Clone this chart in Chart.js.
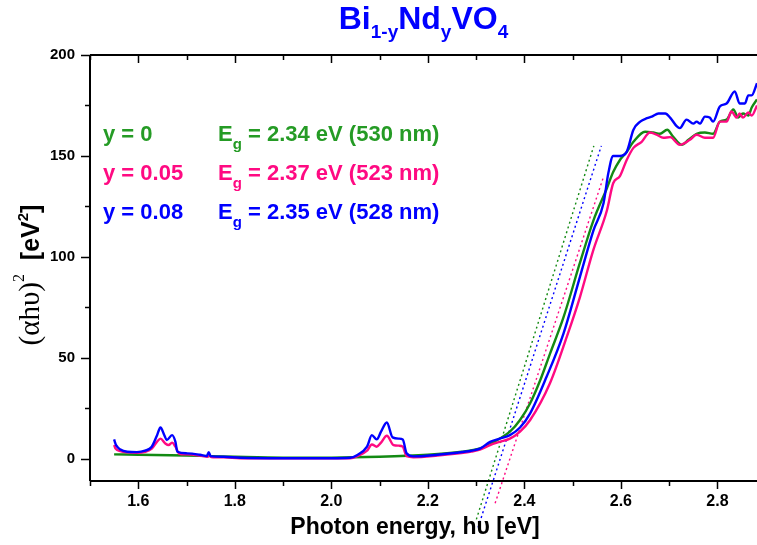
<!DOCTYPE html>
<html>
<head>
<meta charset="utf-8">
<script src="https://cdn.jsdelivr.net/npm/chart.js@4.4.1/dist/chart.umd.min.js"></script>
<style>
  html, body { margin: 0; padding: 0; background: #fff; }
</style>
</head>
<body>
<canvas id="tauc" width="757" height="545"></canvas>
<script>
const SANS = "'Liberation Sans', Arial, sans-serif";
const SERIF = "'Liberation Serif', 'Times New Roman', serif";

const GREEN = "#138a13";
const GREEN_TXT = "#259b25";
const PINK = "#ff0a82";
const BLUE = "#0000ff";

// y = 0
const energyY0 = [1.55, 1.60, 1.70, 1.80, 1.90, 2.00, 2.10, 2.20, 2.27, 2.308, 2.329, 2.349, 2.37, 2.391, 2.412, 2.433, 2.453, 2.481, 2.515, 2.543, 2.571, 2.584, 2.598, 2.612, 2.626, 2.65, 2.667, 2.681, 2.696, 2.708, 2.726, 2.74, 2.757, 2.774, 2.791, 2.805, 2.819, 2.833, 2.843, 2.853, 2.864, 2.871, 2.882];
const valuesY0 = [2.2, 2.0, 1.6, 1.0, 0.6, 0.6, 1.0, 2.0, 3.5, 5.1, 7.2, 10, 13.4, 19.2, 27.5, 39, 52, 70, 97, 118, 134, 142, 148, 152, 157, 162, 161.6, 161, 163, 159.6, 155.5, 158, 161, 161.6, 161, 167, 168, 173, 169, 171, 170, 174, 178];

// y = 0.05
const energyY05 = [1.55, 1.553, 1.563, 1.577, 1.597, 1.614, 1.628, 1.639, 1.646, 1.656, 1.663, 1.670, 1.677, 1.685, 1.701, 1.728, 1.744, 1.747, 1.751, 1.777, 1.811, 1.9, 2.0, 2.039, 2.053, 2.074, 2.084, 2.094, 2.103, 2.115, 2.129, 2.140, 2.148, 2.156, 2.17, 2.22, 2.26, 2.29, 2.308, 2.329, 2.349, 2.37, 2.391, 2.412, 2.453, 2.488, 2.515, 2.543, 2.571, 2.584, 2.598, 2.612, 2.626, 2.643, 2.66, 2.674, 2.688, 2.702, 2.722, 2.743, 2.757, 2.774, 2.791, 2.805, 2.819, 2.829, 2.84, 2.846, 2.853, 2.864, 2.871, 2.882];
const valuesY05 = [6.8, 5, 3.8, 3.2, 3.0, 3.5, 5, 8.5, 10, 7.6, 6.8, 8, 6, 2.5, 2.2, 1.6, 1.0, 2.0, 0.9, 0.7, 0.3, 0.2, 0.2, 0.3, 1.2, 4, 7.1, 6, 8, 11.4, 6.8, 6.5, 6, 1.3, 0.8, 1.6, 2.6, 3.6, 4.5, 6.8, 8.4, 10, 13.5, 19.2, 37.4, 60.5, 80, 103.5, 123, 136.5, 140, 148, 154, 157, 161.6, 160.5, 159, 159.3, 155.5, 158, 160.5, 159, 159, 167, 167, 172, 169, 171, 169, 171.5, 170, 175];

// y = 0.08
const energyY08 = [1.55, 1.552, 1.554, 1.563, 1.577, 1.597, 1.614, 1.628, 1.639, 1.646, 1.654, 1.659, 1.670, 1.677, 1.681, 1.701, 1.728, 1.742, 1.746, 1.750, 1.777, 1.811, 1.9, 2.0, 2.039, 2.053, 2.074, 2.084, 2.094, 2.103, 2.115, 2.127, 2.140, 2.148, 2.156, 2.17, 2.22, 2.26, 2.29, 2.308, 2.329, 2.349, 2.37, 2.391, 2.412, 2.446, 2.481, 2.515, 2.543, 2.564, 2.574, 2.584, 2.598, 2.612, 2.626, 2.640, 2.654, 2.664, 2.678, 2.692, 2.702, 2.716, 2.722, 2.736, 2.750, 2.757, 2.764, 2.774, 2.784, 2.791, 2.805, 2.819, 2.836, 2.846, 2.857, 2.864, 2.871, 2.882];
const valuesY08 = [9.6, 8, 6.8, 4.6, 3.5, 3.3, 4, 6, 11.7, 15.5, 11.7, 9.3, 11.7, 8.4, 3.5, 2.7, 2.0, 1.4, 3.3, 1.3, 1.0, 0.5, 0.3, 0.3, 0.5, 1.8, 6, 11.7, 9.6, 13.4, 18, 10.6, 10, 9.6, 2.7, 1.2, 2, 3, 4, 5, 8.4, 10, 11.7, 15.5, 22.5, 40.6, 62, 90, 113, 126.6, 141.5, 150, 150, 152, 163, 167, 168.7, 169.5, 171, 171, 169, 164.6, 163.8, 168, 166, 167, 166, 169.5, 169, 167, 174.5, 176, 182, 176, 176, 180, 180, 186];

// band gaps and linear fits (order: y = 0, 0.05, 0.08)
const compositions = ["0", "0.05", "0.08"];
const bandGapEv = [2.34, 2.37, 2.35];
const bandGapNm = [530, 523, 528];
const fitSlope = [760, 720, 740];
const fitLow = [-30, -22, -34];
const fitHigh = [155, 140, 155];

const xTicks = [1.6, 1.8, 2.0, 2.2, 2.4, 2.6, 2.8];
const yTicks = [0, 50, 100, 150, 200];

const toPoints = (xs, ys) => xs.map((x, i) => ({ x: x, y: ys[i] }));
const fitLine = (i) => [
  { x: bandGapEv[i] + fitLow[i] / fitSlope[i], y: fitLow[i] },
  { x: bandGapEv[i] + fitHigh[i] / fitSlope[i], y: fitHigh[i] },
];

const curve = (data, color) => ({
  data: data,
  showLine: true,
  borderColor: color,
  borderWidth: 2.4,
  pointRadius: 0,
  cubicInterpolationMode: "monotone",
});
const dotted = (data, color) => ({
  data: data,
  showLine: true,
  borderColor: color,
  borderWidth: 1.4,
  borderDash: [2, 3],
  pointRadius: 0,
  clip: false,
});

// draws a run of [text, font, dy] pieces, left aligned or centred
function richText(ctx, parts, x, y, align) {
  let w = 0;
  parts.forEach((p) => { ctx.font = p[1]; w += ctx.measureText(p[0]).width; });
  let cx = align === "center" ? x - w / 2 : x;
  parts.forEach((p) => {
    ctx.font = p[1];
    ctx.fillText(p[0], cx, y + (p[2] || 0));
    cx += ctx.measureText(p[0]).width;
  });
}

// axis lines and major/minor tick marks
const framePlugin = {
  id: "frame",
  afterDraw(chart) {
    const { ctx, chartArea: a, scales } = chart;
    const xs = scales.x, ys = scales.y;
    ctx.save();
    ctx.strokeStyle = "#000";
    ctx.lineWidth = 2;
    ctx.beginPath();
    ctx.moveTo(a.left, a.top); ctx.lineTo(a.right + 2, a.top);
    ctx.moveTo(a.left, a.top); ctx.lineTo(a.left, a.bottom);
    ctx.moveTo(a.left, a.bottom); ctx.lineTo(a.right + 2, a.bottom);
    ctx.stroke();
    ctx.lineWidth = 1.5;
    ctx.beginPath();
    for (let k = 15; k <= 29; k++) {
      const v = k / 10;
      const px = Math.round(xs.getPixelForValue(v)) + 0.5;
      if (px < a.left - 1 || px > a.right) continue;
      const major = k % 2 === 0;
      ctx.moveTo(px, a.bottom); ctx.lineTo(px, a.bottom + (major ? 8 : 5));
      ctx.moveTo(px, a.top); ctx.lineTo(px, a.top + (major ? 8 : 5));
    }
    for (let v = 0; v <= 200; v += 25) {
      const py = Math.round(ys.getPixelForValue(v)) + 0.5;
      const major = v % 50 === 0;
      ctx.moveTo(a.left, py); ctx.lineTo(a.left - (major ? 9 : 5), py);
    }
    ctx.stroke();
    ctx.restore();
  },
};

// title, composition / band-gap notes and axis titles
const textPlugin = {
  id: "texts",
  afterDraw(chart) {
    const { ctx, chartArea: a } = chart;
    ctx.save();
    ctx.textBaseline = "alphabetic";

    ctx.fillStyle = BLUE;
    const big = "bold 32px " + SANS, small = "bold 19px " + SANS;
    richText(ctx, [["Bi", big], ["1-y", small, 9], ["Nd", big], ["y", small, 9], ["VO", big], ["4", small, 9]],
      (a.left + a.right) / 2, 29, "center");

    const colors = [GREEN_TXT, PINK, BLUE];
    const f = "bold 22px " + SANS, fs = "bold 15px " + SANS;
    compositions.forEach((c, i) => {
      const base = 141 + i * 39;
      ctx.fillStyle = colors[i];
      richText(ctx, [["y = " + c, f]], 103, base, "left");
      richText(ctx, [["E", f], ["g", fs, 8],
        [" = " + bandGapEv[i].toFixed(2) + " eV (" + bandGapNm[i] + " nm)", f]], 218, base, "left");
    });

    ctx.fillStyle = "#000";
    richText(ctx, [["Photon energy, h\u03c5 [eV]", "bold 23px " + SANS]], 415, 534, "center");

    ctx.translate(39, 275);
    ctx.rotate(-Math.PI / 2);
    richText(ctx, [["(\u03b1h\u03c5)", "29px " + SERIF], ["2", "16px " + SERIF, -15],
      ["  [eV", "bold 25px " + SANS], ["2", "bold 15px " + SANS, -11], ["]", "bold 25px " + SANS]], 0, 0, "center");
    ctx.restore();
  },
};

new Chart(document.getElementById("tauc"), {
  type: "scatter",
  data: {
    datasets: [
      curve(toPoints(energyY08, valuesY08), BLUE),
      curve(toPoints(energyY05, valuesY05), PINK),
      curve(toPoints(energyY0, valuesY0), GREEN),
      dotted(fitLine(0), GREEN),
      dotted(fitLine(1), PINK),
      dotted(fitLine(2), BLUE),
    ],
  },
  options: {
    responsive: false,
    animation: false,
    layout: { padding: { top: 55, left: 0, right: 0, bottom: 0 } },
    plugins: { legend: { display: false }, tooltip: { enabled: false } },
    scales: {
      x: {
        type: "linear",
        min: 1.5,
        max: 2.882,
        afterFit: (s) => { s.height = 64; },
        afterBuildTicks: (s) => { s.ticks = xTicks.map((v) => ({ value: v })); },
        grid: { display: false, drawTicks: false },
        border: { display: false },
        ticks: {
          padding: 11,
          color: "#000",
          font: { family: SANS, size: 16, weight: "bold" },
          callback: (v) => v.toFixed(1),
          maxRotation: 0,
        },
      },
      y: {
        min: -11,
        max: 200,
        afterFit: (s) => { s.width = 90; },
        afterBuildTicks: (s) => { s.ticks = yTicks.map((v) => ({ value: v })); },
        grid: { display: false, drawTicks: false },
        border: { display: false },
        ticks: {
          padding: 15,
          color: "#000",
          font: { family: SANS, size: 15, weight: "bold" },
        },
      },
    },
  },
  plugins: [framePlugin, textPlugin],
});
</script>
</body>
</html>
